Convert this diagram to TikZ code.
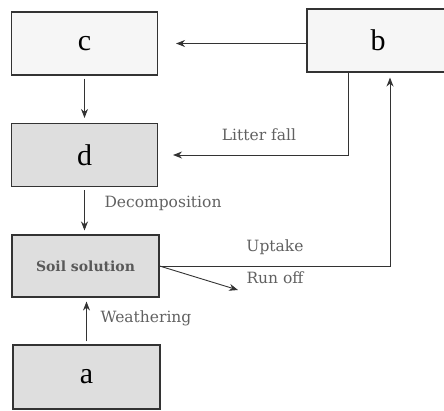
\documentclass[tikz,border=0pt]{standalone}
\usepackage{fontspec}
\setmainfont{Liberation Serif}
\newfontfamily\labelfont{DejaVu Serif}
\usetikzlibrary{arrows.meta}
\definecolor{poolgrey}{RGB}{222,222,222}
\definecolor{poolwhite}{RGB}{246,246,246}
\tikzset{
  pool/.style={draw=black!80, line width=1.1pt, minimum width=146pt, minimum height=63pt,
               inner sep=0pt, font=\fontsize{30}{30}\selectfont},
  flow/.style={draw=black!80, line width=0.9pt, -{Stealth[length=9pt,width=7pt]}},
  flowlabel/.style={text=black!62, font=\labelfont\fontsize{15.5}{16}\selectfont}
}
\begin{document}
\begin{tikzpicture}[x=1pt,y=-1pt]
  \useasboundingbox (0,0) rectangle (444,410);
  % boxes
  \node[pool, fill=poolwhite] (c) at (84.5,43.5) {c};
  \node[pool, fill=poolwhite, minimum width=142pt] (b) at (378,40.5) {b};
  \node[pool, fill=poolgrey] (d) at (84.5,155) {d};
  \node[pool, fill=poolgrey, minimum width=147pt, minimum height=62pt,
        font=\labelfont\bfseries\fontsize{14}{14}\selectfont, text=black!65] (soil) at (85.5,266) {Soil solution};
  \node[pool, fill=poolgrey, minimum width=147pt, minimum height=64pt] (a) at (86.5,377) {a};
  % helper coordinates
  \coordinate (lf) at (348,155);
  \coordinate (upx) at (390,0);
  \coordinate (runoff) at (238,290);
  % arrows
  \draw[flow, shorten <=3pt, shorten >=5pt] (c.south) -- (c.south |- d.north);
  \draw[flow, shorten >=18pt] (b.west |- c.east) -- (c.east);
  \draw[flow, shorten >=15pt] (b.south -| lf) -- (lf) -- (d.east);
  \draw[flow, shorten <=3pt, shorten >=4pt] (d.south) -- (d.south |- soil.north);
  \draw[flow, shorten >=5pt] (soil.east) -| (b.south -| upx);
  \draw[flow] (soil.east) -- (runoff);
  \draw[flow, shorten <=3pt, shorten >=4pt] (a.north) -- (a.north |- soil.south);
  % labels
  \node[flowlabel] (litter) at (259,135) {Litter fall};
  \node[flowlabel] (decomp) at (163,203) {Decomposition};
  \node[flowlabel] (uptake) at (275,247) {Uptake};
  \node[flowlabel] (runlabel) at (275,278) {Run off};
  \node[flowlabel] (weather) at (146,318) {Weathering};
\end{tikzpicture}
\end{document}
